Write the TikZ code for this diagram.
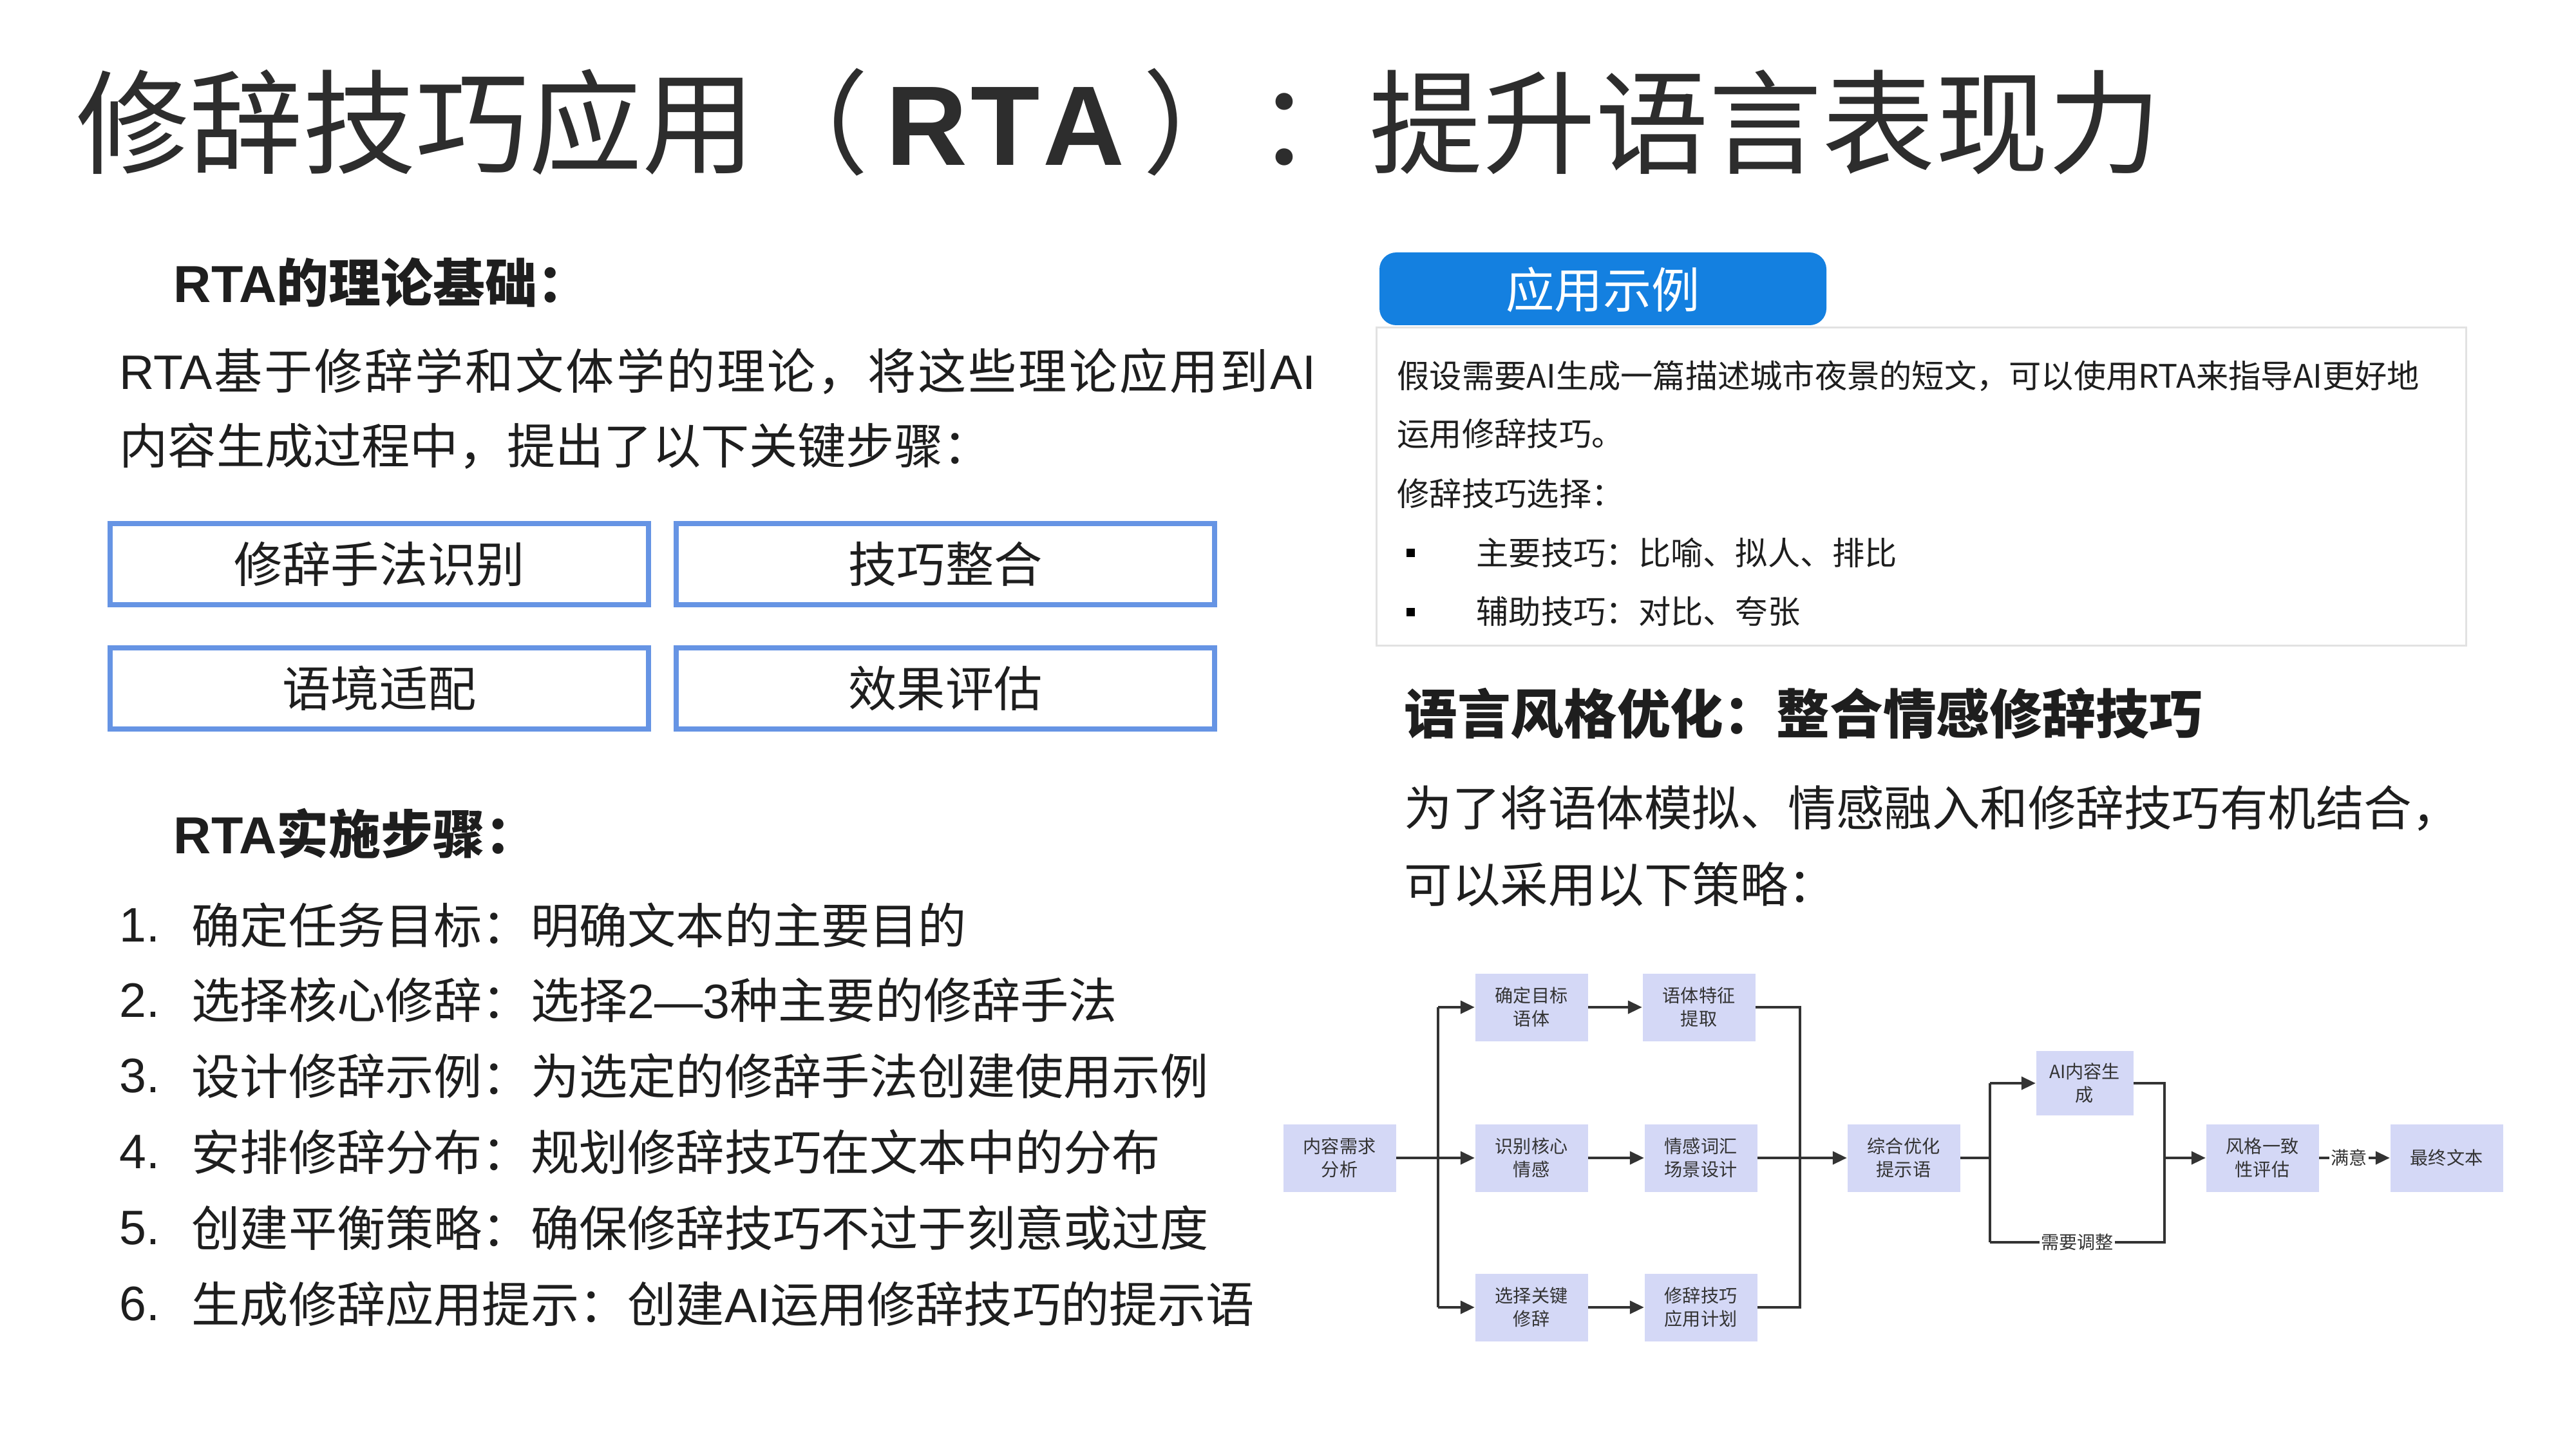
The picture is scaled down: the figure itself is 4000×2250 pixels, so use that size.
\documentclass[tikz,border=0pt]{standalone}
\usepackage{fontspec}
\setmainfont{Noto Sans CJK SC}
\newfontfamily\latf{Liberation Sans}
\usetikzlibrary{arrows.meta}
\definecolor{txt}{RGB}{30,30,30}
\definecolor{titlecol}{RGB}{45,45,45}
\definecolor{boxblue}{RGB}{102,148,228}
\definecolor{tabblue}{RGB}{20,128,224}
\definecolor{framegray}{RGB}{226,226,226}
\definecolor{flowfill}{RGB}{212,216,246}
\definecolor{flowline}{RGB}{51,51,51}
\newcommand{\lt}[1]{{\latf #1}}
\tikzset{
  tnode/.style={anchor=west, inner sep=0pt, text=txt},
  fs21/.style={font=\fontsize{21.4pt}{25pt}\selectfont},
  fs21b/.style={font=\fontsize{23pt}{27pt}\selectfont\bfseries},
  exfont/.style={font=\fontsize{14.3pt}{17pt}\selectfont},
  keybox/.style={draw=boxblue, line width=0.8mm, minimum width=83.6mm, minimum height=12.6mm, inner sep=0pt, text=txt, fs21},
  flow/.style={fill=flowfill, minimum width=17.5mm, minimum height=10.5mm, inner sep=0pt, align=center, text=flowline, font=\fontsize{8pt}{10.2pt}\selectfont},
  conn/.style={draw=flowline, line width=0.4mm},
  arr/.style={conn, -{Triangle[length=2.2mm,width=2mm]}},
  flowlabel/.style={fill=white, inner sep=0.6pt, text=flowline, font=\fontsize{8pt}{10pt}\selectfont},
  bulletsq/.style={fill=black, minimum size=1.3mm, inner sep=0pt},
}
\begin{document}
\begin{tikzpicture}[x=0.1mm,y=-0.1mm]
\useasboundingbox (0,0) rectangle (4000,2250);
\fill[white] (0,0) rectangle (4000,2250);

% Title
\node[tnode, text=titlecol, font=\fontsize{50pt}{56pt}\selectfont] (title) at (118,190)
  {修辞技巧应用（\kern0.15em{\latf\bfseries R\kern0.03em T\kern0.03em A}\kern0.16em）：提升语言表现力};

% Left column
\node[tnode, fs21b] (h1) at (269,439) {{\latf\bfseries RTA}的理论基础：};
\node[tnode, fs21] (p1) at (185,577) {\makebox[185.8mm][s]{\lt{RTA}\hfill 基\hfill 于\hfill 修\hfill 辞\hfill 学\hfill 和\hfill 文\hfill 体\hfill 学\hfill 的\hfill 理\hfill 论\hfill ，\hfill 将\hfill 这\hfill 些\hfill 理\hfill 论\hfill 应\hfill 用\hfill 到\hfill \lt{AI}}};
\node[tnode, fs21] (p2) at (185,693) {内容生成过程中，提出了以下关键步骤：};

\node[keybox] (k1) at (589,876) {修辞手法识别};
\node[keybox] (k2) at (1468,876) {技巧整合};
\node[keybox] (k3) at (589,1069) {语境适配};
\node[keybox] (k4) at (1468,1069) {效果评估};

\node[tnode, fs21b] (h2) at (269,1294) {{\latf\bfseries RTA}实施步骤：};
\node[tnode, fs21] (n1) at (185,1437) {\lt{1.}};
\node[tnode, fs21] (s1) at (297,1437) {确定任务目标：明确文本的主要目的};
\node[tnode, fs21] (n2) at (185,1553) {\lt{2.}};
\node[tnode, fs21] (s2) at (297,1553) {选择核心修辞：选择\lt{2—3}种主要的修辞手法};
\node[tnode, fs21] (n3) at (185,1671) {\lt{3.}};
\node[tnode, fs21] (s3) at (297,1671) {设计修辞示例：为选定的修辞手法创建使用示例};
\node[tnode, fs21] (n4) at (185,1789) {\lt{4.}};
\node[tnode, fs21] (s4) at (297,1789) {安排修辞分布：规划修辞技巧在文本中的分布};
\node[tnode, fs21] (n5) at (185,1907) {\lt{5.}};
\node[tnode, fs21] (s5) at (297,1907) {创建平衡策略：确保修辞技巧不过于刻意或过度};
\node[tnode, fs21] (n6) at (185,2025) {\lt{6.}};
\node[tnode, fs21] (s6) at (297,2025) {生成修辞应用提示：创建\lt{AI}运用修辞技巧的提示语};

% Right column: example
\draw[framegray, line width=0.3mm] (2137,509) rectangle (3829,1002);
\fill[tabblue, rounded corners=2.6mm] (2142,392) rectangle (2836,505);
\node[inner sep=0pt, text=white, fs21] (tab) at (2489,450) {应用示例};

\node[tnode, exfont] (e1) at (2169,584) {假设需要AI生成一篇描述城市夜景的短文，可以使用RTA来指导AI更好地};
\node[tnode, exfont] (e2) at (2169,673) {运用修辞技巧。};
\node[tnode, exfont] (e3) at (2169,766) {修辞技巧选择：};
\node[bulletsq] (bu1) at (2190,858) {};
\node[tnode, exfont] (e4) at (2292,858) {主要技巧：比喻、拟人、排比};
\node[bulletsq] (bu2) at (2190,950) {};
\node[tnode, exfont] (e5) at (2292,950) {辅助技巧：对比、夸张};

\node[tnode, font=\fontsize{23.5pt}{27pt}\selectfont\bfseries] (h3) at (2180,1108) {语言风格优化：整合情感修辞技巧};
\node[tnode, font=\fontsize{21.2pt}{25pt}\selectfont] (q1) at (2180,1255) {为了将语体模拟、情感融入和修辞技巧有机结合，};
\node[tnode, font=\fontsize{21.2pt}{25pt}\selectfont] (q2) at (2180,1373) {可以采用以下策略：};

% Flowchart
\node[flow] (fa) at (2080,1798) {内容需求\\分析};
\node[flow] (fb1) at (2378,1564) {确定目标\\语体};
\node[flow] (fc1) at (2638,1564) {语体特征\\提取};
\node[flow] (fb2) at (2378,1798) {识别核心\\情感};
\node[flow] (fc2) at (2641,1798) {情感词汇\\场景设计};
\node[flow] (fb3) at (2378,2030) {选择关键\\修辞};
\node[flow] (fc3) at (2641,2030) {修辞技巧\\应用计划};
\node[flow] (fd) at (2956,1798) {综合优化\\提示语};
\node[flow, minimum width=15.1mm, minimum height=10mm] (fe) at (3237,1682) {AI内容生\\成};
\node[flow] (ff) at (3513,1798) {风格一致\\性评估};
\node[flow] (fg) at (3799,1798) {最终文本};

\coordinate (b1) at (2233,1564);
\coordinate (b2) at (2233,1798);
\coordinate (b3) at (2233,2030);
\coordinate (m1) at (2795,1564);
\coordinate (m2) at (2795,1798);
\coordinate (m3) at (2795,2030);
\coordinate (sT) at (3090,1682);
\coordinate (sM) at (3090,1798);
\coordinate (sB) at (3090,1929);
\coordinate (rT) at (3361,1682);
\coordinate (rM) at (3361,1798);
\coordinate (rB) at (3361,1929);

\draw[conn] (fa.east) -- (b2);
\draw[conn] (b1) -- (b3);
\draw[arr] (b1) -- (fb1.west);
\draw[arr] (b2) -- (fb2.west);
\draw[arr] (b3) -- (fb3.west);
\draw[arr] (fb1.east) -- (fc1.west);
\draw[arr] (fb2.east) -- (fc2.west);
\draw[arr] (fb3.east) -- (fc3.west);
\draw[conn] (fc1.east) -- (m1) -- (m3) -- (fc3.east);
\draw[conn] (fc2.east) -- (m2);
\draw[arr] (m2) -- (fd.west);
\draw[conn] (fd.east) -- (sM);
\draw[conn] (sT) -- (sB);
\draw[arr] (sT) -- (fe.west);
\draw[conn] (fe.east) -- (rT) -- (rB) -- node[flowlabel] (lbl1) {需要调整} (sB);
\draw[arr] (rM) -- (ff.west);
\draw[arr] (ff.east) -- node[flowlabel, pos=0.42] (lbl2) {满意} (fg.west);
\end{tikzpicture}
\end{document}
